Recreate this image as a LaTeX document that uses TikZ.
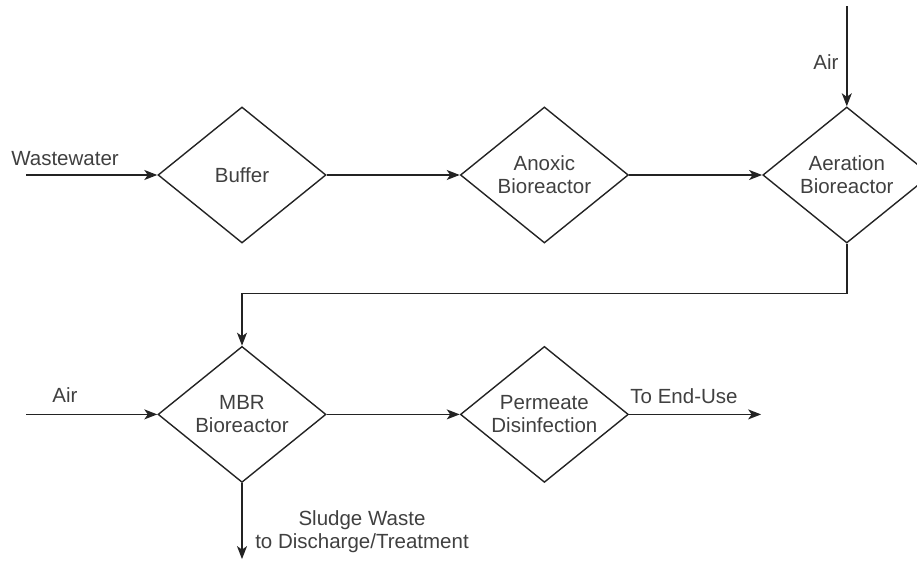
\documentclass[tikz,border=0pt]{standalone}
\usepackage{fontspec}
\setmainfont{Liberation Sans}
\usepackage{tikz}
\usetikzlibrary{shapes.geometric, arrows.meta, positioning}
\definecolor{fline}{RGB}{35,35,35}
\definecolor{ftext}{RGB}{64,64,64}

\begin{document}
\begin{tikzpicture}[x=1pt,y=1pt,
  font=\fontsize{20.5}{23}\selectfont,
  unit/.style={diamond,draw=fline,line width=1.4pt,text=ftext,align=center,
               minimum width=168pt,minimum height=136pt,inner sep=0pt,
               shape aspect=1.24},
  lbl/.style={text=ftext,inner sep=0pt,align=center},
  arr/.style={-{Stealth[length=13pt,width=10pt,inset=3.5pt]},line width=1.4pt,color=fline}
]
  \useasboundingbox (0,0) rectangle (917,-561);
  \node[unit] (buf) at (242,-175) {Buffer};
  \node[unit,right=133pt of buf] (anox) {Anoxic\\Bioreactor};
  \node[unit,right=133pt of anox] (aer) {Aeration\\Bioreactor};
  \node[unit,below=102pt of buf] (mbr) {MBR\\Bioreactor};
  \node[unit,right=133pt of mbr] (perm) {Permeate\\Disinfection};
  % free ends
  \coordinate (wwin) at ([xshift=-131pt]buf.west);
  \coordinate (airtop) at ([yshift=100pt]aer.north);
  \coordinate (airin) at ([xshift=-131pt]mbr.west);
  \coordinate (enduse) at ([xshift=132pt]perm.east);
  \coordinate (sludge) at ([yshift=-76pt]mbr.south);
  \foreach \a/\b in {wwin/buf,buf/anox,anox/aer,airin/mbr,mbr/perm,perm/enduse}
    \draw[arr] (\a) -- (\b);
  \draw[arr] (airtop) -- (aer.north);
  \draw[arr] (aer.south) -- ++(0,-50) -| (mbr.north);
  \draw[arr] (mbr.south) -- (sludge);
  % labels
  \node[lbl] (wwlbl) at (65,-159) {Wastewater};
  \node[lbl] (airlbl1) at (826,-62) {Air};
  \node[lbl] (airlbl2) at (65,-395) {Air};
  \node[lbl] (endlbl) at (684,-396) {To End-Use};
  \node[lbl] (sludgelbl) at (362,-532) {Sludge Waste\\to Discharge/Treatment};
\end{tikzpicture}
\end{document}
